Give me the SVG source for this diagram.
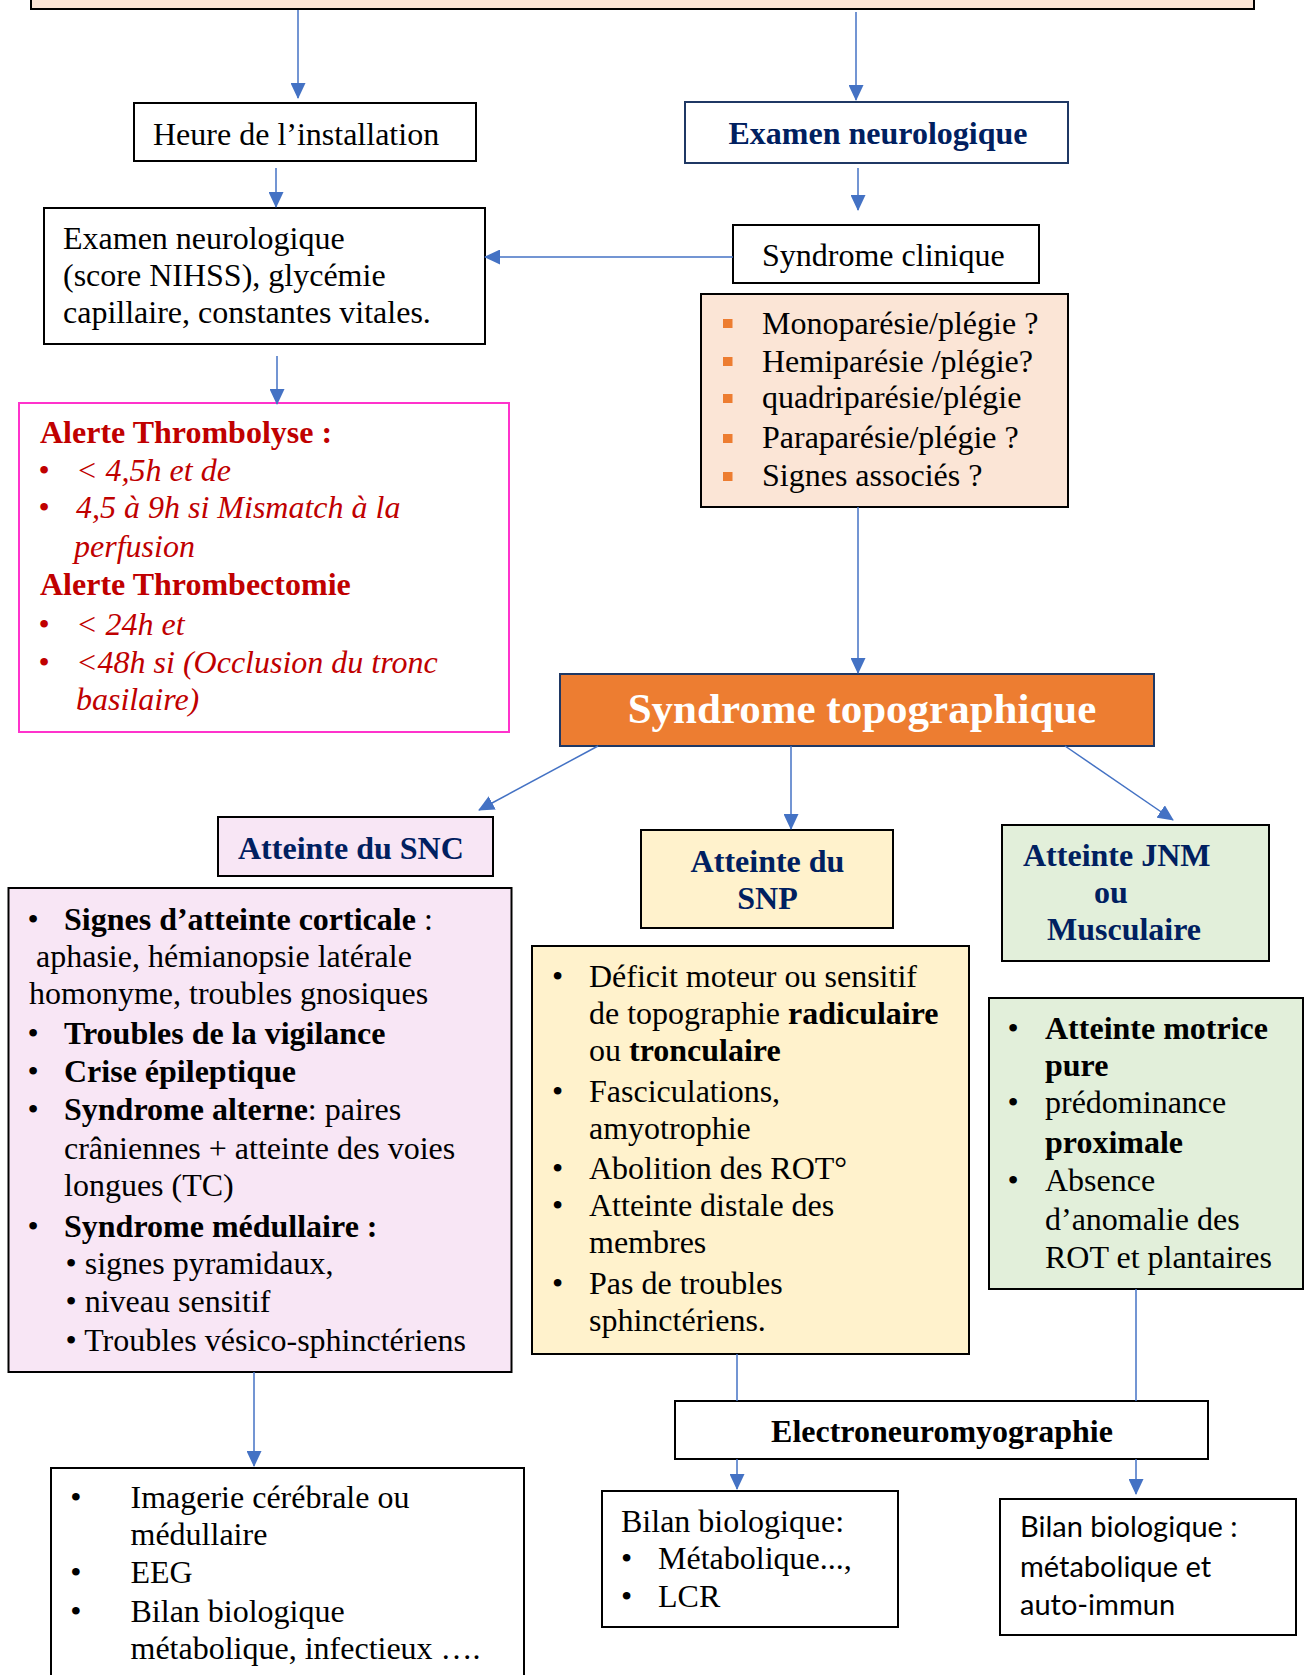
<svg xmlns="http://www.w3.org/2000/svg" width="1309" height="1675" viewBox="0 0 1309 1675">
  <style>
    .box { stroke: #000; stroke-width: 2; }
    .t { font-family: "Liberation Serif", "Times New Roman", serif; font-size: 32px; fill: #000; }
    .b { font-weight: bold; }
    .i { font-style: italic; }
    .navy { fill: #002060; font-weight: bold; }
    .red { fill: #C00000; }
    .big { font-size: 43px; fill: #fff; font-weight: bold; }
    .sans { font-family: "Lato", "Liberation Sans", sans-serif; font-size: 29px; fill: #000; }
    .conn line { stroke: #4472C4; stroke-width: 1.5; fill: none; }
    .conn .arr { marker-end: url(#head); }
    .sq { fill: #ED7D31; }
  </style>
  <defs>
    <marker id="head" markerUnits="userSpaceOnUse" markerWidth="16" markerHeight="15" refX="15" refY="7.5" orient="auto">
      <path d="M0,0 L16,7.5 L0,15 Z" fill="#4472C4"/>
    </marker>
  </defs>
  <rect width="1309" height="1675" fill="#fff"/>

  <!-- top banner (only its lower edge is visible) -->
  <g id="banner">
    <rect class="box" x="31" y="-10" width="1223" height="19" fill="#FBE5D6"/>
  </g>

  <g id="heure">
    <rect class="box" x="134" y="103" width="342" height="58" fill="#fff"/>
    <text class="t" x="153" y="145">Heure de l’installation</text>
  </g>

  <g id="examen-neuro">
    <rect x="685" y="102" width="383" height="61" fill="#fff" stroke="#1F3864" stroke-width="2"/>
    <text class="t navy" x="878" y="144" text-anchor="middle">Examen neurologique</text>
  </g>

  <g id="examen-nihss">
    <rect class="box" x="44" y="208" width="441" height="136" fill="#fff"/>
    <text class="t" x="63" y="249">Examen neurologique</text>
    <text class="t" x="63" y="286">(score NIHSS), glycémie</text>
    <text class="t" x="63" y="323">capillaire, constantes vitales.</text>
  </g>

  <g id="syndrome-clinique">
    <rect class="box" x="733" y="225" width="306" height="58" fill="#fff"/>
    <text class="t" x="762" y="266">Syndrome clinique</text>
  </g>

  <g id="signes-cliniques">
    <rect class="box" x="701" y="294" width="367" height="213" fill="#FBE5D6"/>
    <rect class="sq" x="723" y="319" width="9.5" height="9"/>
    <rect class="sq" x="723" y="357" width="9.5" height="9"/>
    <rect class="sq" x="723" y="394" width="9.5" height="9"/>
    <rect class="sq" x="723" y="434" width="9.5" height="9"/>
    <rect class="sq" x="723" y="472" width="9.5" height="9"/>
    <text class="t" x="762" y="334">Monoparésie/plégie ?</text>
    <text class="t" x="762" y="372">Hemiparésie /plégie?</text>
    <text class="t" x="762" y="408">quadriparésie/plégie</text>
    <text class="t" x="762" y="448">Paraparésie/plégie ?</text>
    <text class="t" x="762" y="486">Signes associés ?</text>
  </g>

  <g id="alertes">
    <rect x="19" y="403" width="490" height="329" fill="#fff" stroke="#FF33CC" stroke-width="2"/>
    <text class="t b red" x="40" y="443">Alerte Thrombolyse :</text>
    <text class="t red" x="38.4" y="481">•</text>
    <text class="t i red" x="76" y="481">&lt; 4,5h et de</text>
    <text class="t red" x="38.4" y="518">•</text>
    <text class="t i red" x="76" y="518">4,5 à 9h si Mismatch à la</text>
    <text class="t i red" x="74" y="557">perfusion</text>
    <text class="t b red" x="40" y="595">Alerte Thrombectomie</text>
    <text class="t red" x="38.4" y="635">•</text>
    <text class="t i red" x="76" y="635">&lt; 24h et</text>
    <text class="t red" x="38.4" y="673">•</text>
    <text class="t i red" x="76" y="673">&lt;48h si (Occlusion du tronc</text>
    <text class="t i red" x="76" y="710">basilaire)</text>
  </g>

  <g id="syndrome-topo">
    <rect x="560" y="674" width="594" height="72" fill="#ED7D31" stroke="#1F3864" stroke-width="2"/>
    <text class="t big" x="862" y="723" text-anchor="middle">Syndrome topographique</text>
  </g>

  <g id="snc-titre">
    <rect class="box" x="218" y="817" width="275" height="59" fill="#F8E6F5"/>
    <text class="t navy" x="238" y="859">Atteinte du SNC</text>
  </g>

  <g id="snp-titre">
    <rect class="box" x="641" y="830" width="252" height="98" fill="#FFF2CC"/>
    <text class="t navy" x="767.5" y="872" text-anchor="middle">Atteinte du</text>
    <text class="t navy" x="767.5" y="909" text-anchor="middle">SNP</text>
  </g>

  <g id="jnm-titre">
    <rect class="box" x="1002" y="825" width="267" height="136" fill="#E2EFDA"/>
    <text class="t navy" x="1023" y="866">Atteinte JNM</text>
    <text class="t navy" x="1094" y="903">ou</text>
    <text class="t navy" x="1047" y="940">Musculaire</text>
  </g>

  <g id="snc-signes">
    <rect class="box" x="8.5" y="888" width="503" height="484" fill="#F8E6F5"/>
    <text class="t" x="27.4" y="929.5">•</text>
    <text class="t" x="64" y="929.5"><tspan class="b">Signes d’atteinte corticale</tspan> :</text>
    <text class="t" x="36" y="966.5">aphasie, hémianopsie latérale</text>
    <text class="t" x="29" y="1003.5">homonyme, troubles gnosiques</text>
    <text class="t" x="27.4" y="1044">•</text>
    <text class="t b" x="64" y="1044">Troubles de la vigilance</text>
    <text class="t" x="27.4" y="1082">•</text>
    <text class="t b" x="64" y="1082">Crise épileptique</text>
    <text class="t" x="27.4" y="1120">•</text>
    <text class="t" x="64" y="1120"><tspan class="b">Syndrome alterne</tspan>: paires</text>
    <text class="t" x="64" y="1159">crâniennes + atteinte des voies</text>
    <text class="t" x="64" y="1196">longues (TC)</text>
    <text class="t" x="27.4" y="1236.5">•</text>
    <text class="t b" x="64" y="1236.5">Syndrome médullaire :</text>
    <text class="t" x="65.5" y="1273.5">• signes pyramidaux,</text>
    <text class="t" x="65.5" y="1312">• niveau sensitif</text>
    <text class="t" x="65.5" y="1351">• Troubles vésico-sphinctériens</text>
  </g>

  <g id="snp-signes">
    <rect class="box" x="532" y="946" width="437" height="408" fill="#FFF2CC"/>
    <text class="t" x="552" y="987">•</text>
    <text class="t" x="589" y="987">Déficit moteur ou sensitif</text>
    <text class="t" x="589" y="1024">de topographie <tspan class="b">radiculaire</tspan></text>
    <text class="t" x="589" y="1061">ou <tspan class="b">tronculaire</tspan></text>
    <text class="t" x="552" y="1101.5">•</text>
    <text class="t" x="589" y="1101.5">Fasciculations,</text>
    <text class="t" x="589" y="1138.5">amyotrophie</text>
    <text class="t" x="552" y="1179">•</text>
    <text class="t" x="589" y="1179">Abolition des ROT°</text>
    <text class="t" x="552" y="1216">•</text>
    <text class="t" x="589" y="1216">Atteinte distale des</text>
    <text class="t" x="589" y="1253">membres</text>
    <text class="t" x="552" y="1294">•</text>
    <text class="t" x="589" y="1294">Pas de troubles</text>
    <text class="t" x="589" y="1331">sphinctériens.</text>
  </g>

  <g id="jnm-signes">
    <rect class="box" x="989" y="998" width="314" height="291" fill="#E2EFDA"/>
    <text class="t" x="1007.4" y="1039">•</text>
    <text class="t b" x="1045" y="1039">Atteinte motrice</text>
    <text class="t b" x="1045" y="1076">pure</text>
    <text class="t" x="1007.4" y="1113">•</text>
    <text class="t" x="1045" y="1113">prédominance</text>
    <text class="t b" x="1045" y="1153">proximale</text>
    <text class="t" x="1007.4" y="1191">•</text>
    <text class="t" x="1045" y="1191">Absence</text>
    <text class="t" x="1045" y="1230">d’anomalie des</text>
    <text class="t" x="1045" y="1268">ROT et plantaires</text>
  </g>

  <g id="enmg">
    <rect class="box" x="675" y="1401" width="533" height="58" fill="#fff"/>
    <text class="t b" x="942" y="1442" text-anchor="middle">Electroneuromyographie</text>
  </g>

  <g id="bilan-snc">
    <rect class="box" x="51" y="1468" width="473" height="230" fill="#fff"/>
    <text class="t" x="70.2" y="1508">•</text>
    <text class="t" x="130.5" y="1508">Imagerie cérébrale ou</text>
    <text class="t" x="130.5" y="1545">médullaire</text>
    <text class="t" x="70.2" y="1583">•</text>
    <text class="t" x="130.5" y="1583">EEG</text>
    <text class="t" x="70.2" y="1622">•</text>
    <text class="t" x="130.5" y="1622">Bilan biologique</text>
    <text class="t" x="130.5" y="1659">métabolique, infectieux ….</text>
  </g>

  <g id="bilan-snp">
    <rect class="box" x="602" y="1491" width="296" height="136" fill="#fff"/>
    <text class="t" x="621" y="1532">Bilan biologique:</text>
    <text class="t" x="621" y="1569">•</text>
    <text class="t" x="658" y="1569">Métabolique...,</text>
    <text class="t" x="621" y="1607">•</text>
    <text class="t" x="658" y="1607">LCR</text>
  </g>

  <g id="bilan-jnm">
    <rect class="box" x="1000" y="1499" width="296" height="136" fill="#fff"/>
    <text class="sans" x="1020" y="1537">Bilan biologique :</text>
    <text class="sans" x="1020" y="1577">métabolique et</text>
    <text class="sans" x="1020" y="1615">auto-immun</text>
  </g>

  <!-- connectors -->
  <g id="connectors" class="conn">
    <line class="arr" x1="298" y1="10" x2="298" y2="98"/>
    <line class="arr" x1="856" y1="12" x2="856" y2="100"/>
    <line class="arr" x1="276" y1="168" x2="276" y2="207"/>
    <line class="arr" x1="858" y1="168" x2="858" y2="210"/>
    <line class="arr" x1="733" y1="257" x2="485" y2="257"/>
    <line class="arr" x1="277" y1="356" x2="277" y2="404"/>
    <line class="arr" x1="858" y1="507" x2="858" y2="673"/>
    <line class="arr" x1="598" y1="746" x2="479" y2="810"/>
    <line class="arr" x1="791" y1="746" x2="791" y2="829"/>
    <line class="arr" x1="1065" y1="746" x2="1173" y2="820"/>
    <line class="arr" x1="254" y1="1372" x2="254" y2="1466"/>
    <line x1="737" y1="1354" x2="737" y2="1401"/>
    <line x1="1136" y1="1289" x2="1136" y2="1401"/>
    <line class="arr" x1="737" y1="1459" x2="737" y2="1489"/>
    <line class="arr" x1="1136" y1="1459" x2="1136" y2="1494"/>
  </g>
</svg>
